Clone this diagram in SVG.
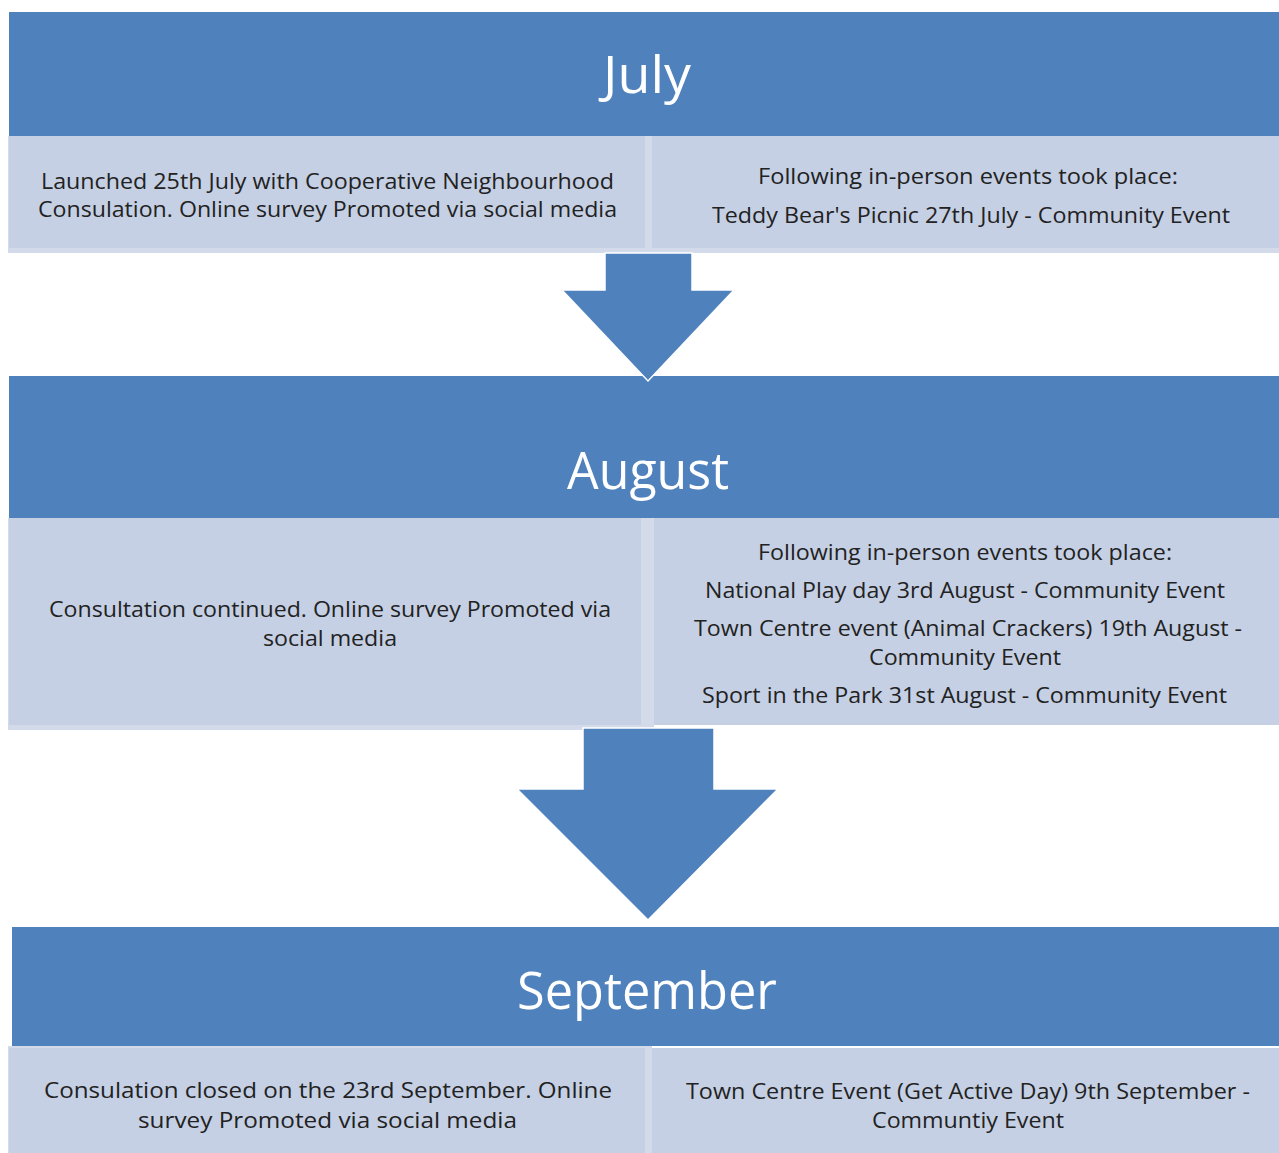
<svg xmlns="http://www.w3.org/2000/svg" width="1279" height="1153" viewBox="0 0 1279 1153">
<style>
.hdr{fill:#4f81bd}
.cell{fill:#c5d0e4}
.sep{fill:#d3dbea}
.arrow{fill:#4f81bd;stroke:#ffffff;stroke-width:1.5}
.t{font-family:"Open Sans","Liberation Sans",sans-serif;font-size:22px;fill:#222222;text-anchor:middle}
.h{font-family:"Open Sans","Liberation Sans",sans-serif;font-size:51px;fill:#ffffff;text-anchor:middle}
</style>
<rect width="1279" height="1153" fill="#ffffff"/>
<g id="july">
<rect class="hdr" x="9" y="12" width="1270" height="124"/>
<text class="h" x="647" y="93" textLength="88" lengthAdjust="spacingAndGlyphs">July</text>
</g>
<g id="july-left">
<rect class="sep" x="8" y="136" width="640" height="117"/>
<rect class="cell" x="9" y="136" width="636" height="112"/>
<text class="t" x="327.5" y="189" textLength="573" lengthAdjust="spacingAndGlyphs">Launched 25th July with Cooperative Neighbourhood</text>
<text class="t" x="327.5" y="217" textLength="579" lengthAdjust="spacingAndGlyphs">Consulation. Online survey Promoted via social media</text>
</g>
<g id="july-right">
<rect class="sep" x="648" y="136" width="631" height="117"/>
<rect class="cell" x="652" y="136" width="627" height="112"/>
<text class="t" x="968" y="184" textLength="420" lengthAdjust="spacingAndGlyphs">Following in-person events took place:</text>
<text class="t" x="971" y="223" textLength="518" lengthAdjust="spacingAndGlyphs">Teddy Bear's Picnic 27th July - Community Event</text>
</g>
<g id="august">
<rect class="hdr" x="9" y="376" width="1270" height="142"/>
<text class="h" x="648" y="489" textLength="162" lengthAdjust="spacingAndGlyphs">August</text>
</g>
<g id="august-left">
<rect class="sep" x="8" y="518" width="646" height="212"/>
<rect class="cell" x="9" y="518" width="632" height="207"/>
<text class="t" x="330" y="617" textLength="562" lengthAdjust="spacingAndGlyphs">Consultation continued. Online survey Promoted via</text>
<text class="t" x="330" y="646" textLength="134" lengthAdjust="spacingAndGlyphs">social media</text>
</g>
<g id="august-right">
<rect class="cell" x="654" y="518" width="625" height="207"/>
<text class="t" x="965" y="560" textLength="414" lengthAdjust="spacingAndGlyphs">Following in-person events took place:</text>
<text class="t" x="965" y="598" textLength="520" lengthAdjust="spacingAndGlyphs">National Play day 3rd August - Community Event</text>
<text class="t" x="968" y="636" textLength="548" lengthAdjust="spacingAndGlyphs">Town Centre event (Animal Crackers) 19th August -</text>
<text class="t" x="965" y="665" textLength="192" lengthAdjust="spacingAndGlyphs">Community Event</text>
<text class="t" x="964.5" y="703" textLength="525" lengthAdjust="spacingAndGlyphs">Sport in the Park 31st August - Community Event</text>
</g>
<g id="september">
<rect class="hdr" x="12" y="927" width="1267" height="119"/>
<text class="h" x="647" y="1009" textLength="260" lengthAdjust="spacingAndGlyphs">September</text>
</g>
<g id="september-left">
<rect class="sep" x="8" y="1046" width="644" height="107"/>
<rect class="cell" x="9" y="1048" width="636" height="105"/>
<text class="t" x="328" y="1098" textLength="568" lengthAdjust="spacingAndGlyphs">Consulation closed on the 23rd September. Online</text>
<text class="t" x="327.5" y="1128" textLength="379" lengthAdjust="spacingAndGlyphs">survey Promoted via social media</text>
</g>
<g id="september-right">
<rect class="cell" x="652" y="1048" width="627" height="105"/>
<text class="t" x="968" y="1099" textLength="564" lengthAdjust="spacingAndGlyphs">Town Centre Event (Get Active Day) 9th September -</text>
<text class="t" x="968" y="1128" textLength="192" lengthAdjust="spacingAndGlyphs">Communtiy Event</text>
</g>
<g id="connectors">
<polygon class="arrow" points="605,253 692,253 692,290 734,290 648,381 562,290 605,290"/>
<polygon class="arrow" points="583,728 714,728 714,789 778,789 648,920 517,789 583,789"/>
</g>
</svg>
